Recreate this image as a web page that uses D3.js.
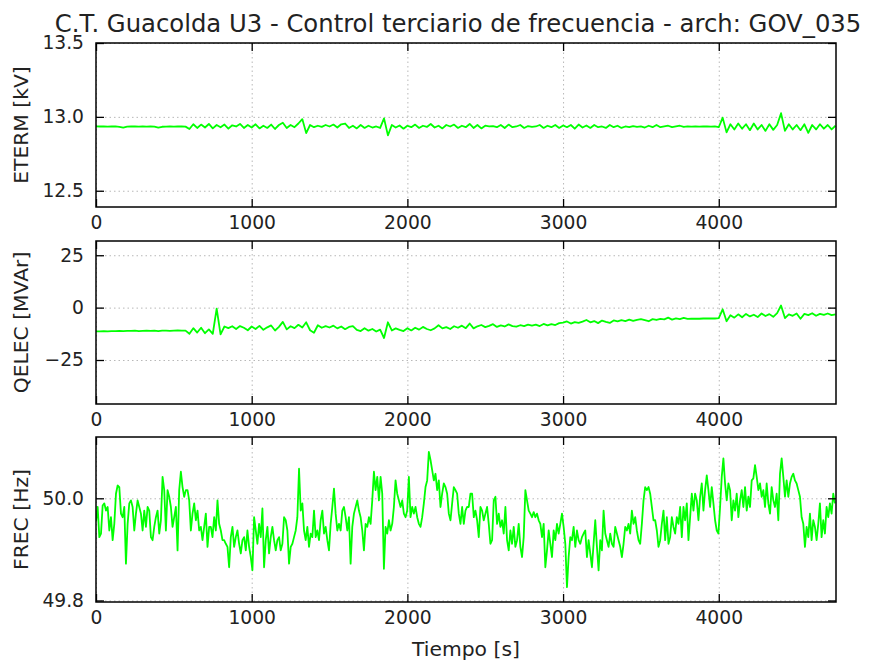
<!DOCTYPE html>
<html>
<head>
<meta charset="utf-8">
<script src="https://cdn.jsdelivr.net/npm/d3@7"></script>
<style>
  html, body { margin: 0; padding: 0; background: #fff; }
  svg { display: block; font-family: "DejaVu Sans", sans-serif; }
</style>
</head>
<body>
<svg id="chart" width="880" height="662"></svg>
<script>
// ---------------- DATA ----------------
const TITLE = "C.T. Guacolda U3 - Control terciario de frecuencia - arch: GOV_035";
const X_LABEL = "Tiempo [s]";
const X_TICKS = [0, 1000, 2000, 3000, 4000];

// ETERM [kV], sampled every 25 s from t = 0 to 4750 s
const ETERM_DT = 25;
const ETERM = [
  12.936, 12.935, 12.935, 12.934, 12.935, 12.935, 12.933, 12.928, 12.934, 12.935, 12.935, 12.934, 12.935, 12.934, 12.935, 12.934, 12.927, 12.933, 12.934, 12.935, 12.934, 12.935, 12.935, 12.934,
  12.918, 12.950, 12.925, 12.948, 12.928, 12.952, 12.922, 12.945, 12.930, 12.948, 12.920, 12.943, 12.935, 12.952, 12.925, 12.945,
  12.928, 12.950, 12.922, 12.940, 12.925, 12.948, 12.918, 12.945, 12.960, 12.925, 12.945, 12.930, 12.955, 12.985, 12.890, 12.945,
  12.930, 12.940, 12.932, 12.945, 12.935, 12.948, 12.928, 12.950, 12.955, 12.925, 12.940, 12.922, 12.945, 12.925, 12.940, 12.928,
  12.935, 12.925, 12.990, 12.875, 12.945, 12.928, 12.942, 12.920, 12.940, 12.930, 12.948, 12.925, 12.940, 12.932, 12.952, 12.928,
  12.940, 12.922, 12.945, 12.935, 12.948, 12.925, 12.940, 12.930, 12.952, 12.925, 12.945, 12.922, 12.940, 12.935, 12.938, 12.930,
  12.945, 12.925, 12.948, 12.930, 12.935, 12.945, 12.925, 12.938, 12.932, 12.935, 12.945, 12.925, 12.940, 12.930, 12.945, 12.925,
  12.942, 12.930, 12.945, 12.920, 12.948, 12.928, 12.942, 12.925, 12.945, 12.930, 12.935, 12.925, 12.945, 12.930, 12.940, 12.925,
  12.935, 12.930, 12.938, 12.932, 12.935, 12.928, 12.940, 12.930, 12.945, 12.930, 12.935, 12.940, 12.930, 12.935, 12.940, 12.932,
  12.935, 12.934, 12.935, 12.934, 12.935, 12.935, 12.934, 12.935, 12.930, 12.995, 12.895, 12.950, 12.915, 12.955, 12.920, 12.950,
  12.910, 12.955, 12.915, 12.945, 12.905, 12.950, 12.912, 12.945, 13.025, 12.905, 12.950, 12.915, 12.945, 12.910, 12.950, 12.892,
  12.945, 12.915, 12.950, 12.920, 12.945, 12.915, 12.940
];

// QELEC [MVAr], sampled every 25 s from t = 0 to 4750 s
const QELEC_DT = 25;
const QELEC = [
  -11.3, -11.3, -11.2, -11.3, -11.2, -11.2, -11.1, -11.2, -11.1, -11.1, -11.0, -11.2, -11.1, -11.0, -11.1, -11.0, -11.2, -11.0, -11.0, -11.1, -11.0, -10.9, -11.0, -11.0,
  -12.5, -9.8, -11.9, -9.6, -12.2, -10.4, -12.5, -0.5, -12.8, -9.0, -9.8, -8.9, -10.2, -8.8, -9.6, -10.8,
  -9.0, -10.2, -8.7, -10.6, -9.4, -8.5, -10.9, -9.2, -6.8, -10.4, -8.9, -9.8, -8.2, -9.5, -7.0, -10.8,
  -12.0, -8.4, -9.6, -8.8, -9.5, -8.6, -9.9, -9.0, -10.3, -9.2, -8.8, -10.6, -11.2, -9.8, -11.0, -10.2,
  -11.4, -10.5, -14.5, -7.0, -10.9, -9.9, -10.6, -11.2, -9.8, -10.9, -9.6, -10.5, -9.2, -10.2, -10.8, -9.9,
  -8.4, -9.9, -9.3, -10.2, -8.9, -9.6, -8.6, -9.8, -7.6, -9.9, -8.9, -8.3, -9.3, -8.7, -7.9, -9.2,
  -8.5, -9.0, -8.0, -8.8, -9.1, -8.4, -8.8, -8.1, -8.6, -8.1, -8.8, -7.8, -8.5, -7.9, -8.3, -7.4,
  -7.2, -6.6, -7.6, -6.9, -7.3, -6.7, -5.9, -7.0, -6.4, -7.4, -6.2, -6.8, -7.3, -6.1, -6.6, -6.0,
  -6.4, -5.7, -6.3, -5.8, -5.5, -6.0, -6.5, -5.5, -5.9, -5.4, -5.6, -4.8, -5.7, -5.1, -5.5, -4.9,
  -5.4, -5.3, -5.3, -5.3, -5.2, -5.2, -5.2, -5.2, -5.0, -0.8, -6.5, -3.6, -4.8, -3.2, -4.6, -3.0,
  -4.2, -3.4, -4.5, -2.8, -4.0, -3.1, -4.4, -2.6, 1.0, -5.0, -3.2, -3.9, -2.8, -5.3, -3.0, -3.6,
  -2.7, -3.9, -3.0, -3.5, -2.8, -3.6, -3.2
];

// FREC [Hz], sampled uniformly from t = 0 to 4746 s
const FREC_T_END = 4746;
const FREC = [
  49.955,
  49.983, 49.924, 49.931, 49.986, 49.990, 49.976, 49.983, 49.937, 49.963, 49.918,
  49.950, 50.009, 50.025, 50.022, 49.970, 49.963, 49.983, 49.872, 49.950, 49.990,
  49.996, 49.983, 49.937, 49.970, 49.996, 49.983, 49.970, 49.937, 49.976, 49.944,
  49.983, 49.976, 49.924, 49.918, 49.944, 49.963, 49.976, 49.931, 49.957, 50.042,
  50.016, 49.937, 50.016, 50.003, 49.983, 49.944, 49.963, 49.983, 49.898, 50.016,
  50.052, 50.022, 50.003, 50.016, 50.016, 49.996, 49.937, 49.970, 49.990, 49.957,
  49.976, 49.937, 49.944, 49.918, 49.944, 49.970, 49.905, 49.944, 49.944, 49.924,
  49.963, 49.937, 49.996, 49.950, 49.937, 49.918, 49.918, 49.911, 49.905, 49.865,
  49.924, 49.944, 49.905, 49.924, 49.937, 49.911, 49.892, 49.918, 49.924, 49.898,
  49.937, 49.905, 49.885, 49.859, 49.963, 49.937, 49.911, 49.950, 49.924, 49.980,
  49.865, 49.918, 49.944, 49.892, 49.924, 49.944, 49.918, 49.898, 49.918, 49.924,
  49.898, 49.911, 49.963,
  49.957, 49.937, 49.872, 49.905, 49.911, 49.924, 49.937, 49.963, 50.058, 49.976,
  49.990, 49.937, 49.918, 49.944, 49.905, 49.931, 49.924, 49.976, 49.924, 49.937,
  49.918, 49.957, 49.976, 49.931, 49.944, 49.918, 49.898, 49.950, 49.983, 50.019,
  49.970, 49.937, 49.950, 49.937, 49.976, 49.983, 49.963, 49.937, 49.963, 49.872,
  49.944, 49.970, 49.983, 49.996, 49.976, 49.963, 49.937, 49.898, 49.950, 49.944,
  49.963, 49.950, 49.996, 50.052, 50.016, 50.042, 49.996, 50.042, 50.009, 49.862,
  49.944, 49.931, 49.957, 49.937, 49.950, 49.983, 50.035, 50.009, 49.996, 49.983,
  49.996, 49.970, 49.963, 49.976, 50.042, 49.963, 49.983, 49.970, 49.983, 49.963,
  49.950, 49.944, 49.963, 49.990, 50.022, 50.035, 50.091, 50.075, 50.055, 50.035,
  50.048, 50.016, 50.035, 49.983, 50.009, 50.029, 50.022, 50.009, 49.970, 49.957,
  49.990, 50.022, 50.016, 50.009, 49.970, 49.950, 49.983, 49.950, 49.976, 49.983,
  49.983,
  50.009, 50.009, 49.963, 49.976, 49.957, 49.924, 49.983, 49.976, 49.957, 49.970,
  49.983, 49.950, 49.911, 49.918, 49.996, 50.003, 49.950, 49.970, 49.944, 49.957,
  49.931, 49.983, 49.918, 49.898, 49.937, 49.911, 49.944, 49.905, 49.918, 49.950,
  49.905, 49.885, 49.924, 50.016, 49.996, 49.976, 49.970, 49.963, 49.973, 49.963,
  49.970, 49.957, 49.950, 49.924, 49.950, 49.865, 49.898, 49.937, 49.911, 49.885,
  49.937, 49.918, 49.950, 49.931, 49.950, 49.970, 49.944, 49.911, 49.826, 49.885,
  49.924, 49.918, 49.944, 49.905, 49.937, 49.918, 49.911, 49.924, 49.931, 49.937,
  49.885, 49.918, 49.892, 49.865, 49.911, 49.957, 49.905, 49.859, 49.918, 49.898,
  49.976, 49.931, 49.918, 49.905, 49.931, 49.911, 49.905, 49.944, 49.931, 49.918,
  49.905, 49.885, 49.911, 49.944, 49.937, 49.950, 49.931, 49.976, 49.950, 49.963,
  49.937, 49.918, 49.911, 49.950, 49.996, 50.022, 50.016, 50.022, 50.009, 49.983,
  49.957,
  49.957, 49.937, 49.905, 49.918, 49.950, 49.976, 49.918, 49.963, 49.911, 49.924,
  49.963, 49.944, 49.931, 49.963, 49.950, 49.983, 49.924, 49.983, 49.957, 49.990,
  49.918, 49.963, 50.009, 49.976, 50.009, 49.996, 49.957, 50.003, 50.029, 49.976,
  50.016, 50.045, 50.016, 49.983, 50.022, 49.990, 49.957, 49.937, 49.931, 49.983,
  50.042, 50.078, 50.029, 49.996, 50.029, 50.016, 49.957, 49.996, 49.976, 50.009,
  49.963, 49.996, 50.016, 49.983, 50.022, 49.976, 50.003, 49.983, 50.035, 50.039,
  50.065, 50.042, 50.016, 50.029, 50.003, 50.016, 49.983, 50.029, 49.990, 49.970,
  50.022, 49.996, 49.983, 50.009, 49.957, 50.048, 50.078, 50.042, 50.003, 50.035,
  50.003, 50.029, 50.042, 50.048, 50.035, 50.029, 50.016, 50.003, 49.963, 49.950,
  49.905, 49.944, 49.924, 49.970, 49.918, 49.957, 49.944, 49.918, 49.950, 49.990,
  49.924, 49.957, 49.931, 49.983, 49.963, 49.990, 49.970, 50.009, 49.990
];

const ETERM_TICKS = [12.5, 13.0, 13.5];
const QELEC_TICKS = [-25, 0, 25];
const FREC_TICKS = [49.8, 50.0];

// ---------------- LAYOUT ----------------
const svg = d3.select("#chart");
const LEFT = 96, RIGHT = 836;
const LINE_COLOR = "#00ff00";
const TEXT_COLOR = "#222";
const TICK_FONT = 18.7;
const LABEL_FONT = 20.3;

const x = d3.scaleLinear().domain([0, 4753]).range([LEFT, RIGHT]);

const panels = [
  { label: "ETERM [kV]", top: 43, bottom: 207, domain: [12.39, 13.5], ticks: ETERM_TICKS, fmt: d3.format(".1f"),
    values: ETERM, times: d3.range(ETERM.length).map(i => i * ETERM_DT) },
  { label: "QELEC [MVAr]", top: 241, bottom: 404, domain: [-46, 31.8], ticks: QELEC_TICKS, fmt: d3.format("d"),
    values: QELEC, times: d3.range(QELEC.length).map(i => i * QELEC_DT) },
  { label: "FREC [Hz]", top: 437, bottom: 602, domain: [49.797, 50.12], ticks: FREC_TICKS, fmt: d3.format(".1f"),
    values: FREC, times: d3.range(FREC.length).map(i => i * FREC_T_END / (FREC.length - 1)) }
];

svg.append("text")
  .attr("x", 458).attr("y", 32)
  .attr("text-anchor", "middle")
  .attr("font-size", 24.3)
  .attr("fill", TEXT_COLOR)
  .text(TITLE);

panels.forEach((p, k) => {
  const y = d3.scaleLinear().domain(p.domain).range([p.bottom, p.top]);
  const g = svg.append("g");
  const h = p.bottom - p.top, w = RIGHT - LEFT;

  // grid
  const gx = g.append("g").attr("transform", `translate(0,${p.bottom})`)
    .call(d3.axisBottom(x).tickValues(X_TICKS).tickSize(-h).tickFormat(""));
  const gy = g.append("g").attr("transform", `translate(${LEFT},0)`)
    .call(d3.axisLeft(y).tickValues(p.ticks).tickSize(-w).tickFormat(""));
  [gx, gy].forEach(a => {
    a.select(".domain").remove();
    a.selectAll("line").attr("stroke", "#b8b8b8").attr("stroke-width", 1).attr("stroke-dasharray", "1.5,3");
  });

  // line
  const clipId = "clip" + k;
  svg.append("clipPath").attr("id", clipId).append("rect")
    .attr("x", LEFT).attr("y", p.top).attr("width", w).attr("height", h);
  const line = d3.line().x((d, i) => x(p.times[i])).y(d => y(d));
  g.append("path").datum(p.values)
    .attr("clip-path", `url(#${clipId})`)
    .attr("fill", "none").attr("stroke", LINE_COLOR).attr("stroke-width", 1.8)
    .attr("stroke-linejoin", "round")
    .attr("d", line);

  // axes with inward ticks
  const styleAxis = a => {
    a.select(".domain").remove();
    a.selectAll("line").attr("stroke", "#000").attr("stroke-width", 1.3);
    a.selectAll("text").attr("fill", TEXT_COLOR).attr("font-size", TICK_FONT).attr("font-family", "DejaVu Sans");
  };
  styleAxis(g.append("g").attr("transform", `translate(0,${p.bottom})`)
    .call(d3.axisBottom(x).tickValues(X_TICKS).tickSize(-8).tickPadding(9).tickFormat(d3.format("d"))));
  styleAxis(g.append("g").attr("transform", `translate(0,${p.top})`)
    .call(d3.axisTop(x).tickValues(X_TICKS).tickSize(-8).tickFormat("")));
  styleAxis(g.append("g").attr("transform", `translate(${LEFT},0)`)
    .call(d3.axisLeft(y).tickValues(p.ticks).tickSize(-8).tickPadding(12).tickFormat(p.fmt)));
  styleAxis(g.append("g").attr("transform", `translate(${RIGHT},0)`)
    .call(d3.axisRight(y).tickValues(p.ticks).tickSize(-8).tickFormat("")));

  // border
  g.append("rect").attr("x", LEFT).attr("y", p.top).attr("width", w).attr("height", h)
    .attr("fill", "none").attr("stroke", "#000").attr("stroke-width", 1.5);

  // y label
  g.append("text")
    .attr("transform", `translate(28,${(p.top + p.bottom) / 2}) rotate(-90)`)
    .attr("text-anchor", "middle")
    .attr("font-size", LABEL_FONT).attr("fill", TEXT_COLOR)
    .text(p.label);
});

svg.append("text")
  .attr("x", 466).attr("y", 656)
  .attr("text-anchor", "middle")
  .attr("font-size", LABEL_FONT).attr("fill", TEXT_COLOR)
  .text(X_LABEL);
</script>
</body>
</html>
